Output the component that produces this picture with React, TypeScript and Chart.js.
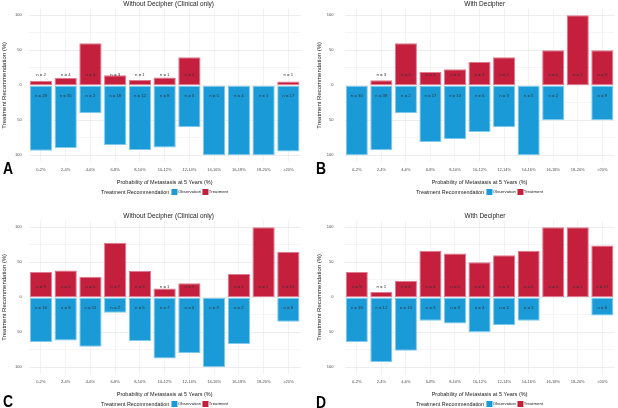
import React, { useEffect, useRef } from "react";
import { Chart, registerables } from "chart.js";

Chart.register(...registerables);

const categories = ["0-2%", "2-4%", "4-6%", "6-8%", "8-10%", "10-12%", "12-14%", "14-16%", "16-18%", "18-20%", ">20%"];
const yTickValues = [-100, -75, -50, -25, 0, 25, 50, 75, 100];

// Panel A: Without Decipher (top)
const treatA = [2, 4, 3, 3, 1, 1, 2, 0, 0, 0, 1];
const obsA = [28, 35, 2, 18, 12, 8, 3, 5, 4, 1, 17];
// Panel B: With Decipher (top)
const treatB = [0, 3, 3, 4, 3, 3, 2, 0, 2, 1, 9];
const obsB = [30, 38, 2, 17, 10, 6, 3, 5, 2, 0, 9];
// Panel C: Without Decipher (bottom)
const treatC = [9, 5, 5, 7, 3, 1, 1, 0, 1, 1, 15];
const obsC = [16, 8, 12, 2, 5, 7, 4, 3, 2, 0, 8];
// Panel D: With Decipher (bottom)
const treatD = [9, 1, 4, 6, 5, 4, 3, 2, 3, 1, 17];
const obsD = [16, 12, 13, 3, 3, 4, 2, 1, 0, 0, 6];

const TITLE_WITHOUT = "Without Decipher (Clinical only)";
const TITLE_WITH = "With Decipher";
const X_TITLE = "Probability of Metastasis at 5 Years (%)";
const Y_TITLE = "Treatment Recommendation (%)";
const LEGEND_TITLE = "Treatment Recommendation";
const LEGEND_ITEMS = ["Observation", "Treatment"];

const BLUE = "#1a9ad6";
const BLUE_EDGE = "#7fcbee";
const RED = "#c51f3e";
const RED_EDGE = "#e07a90";
const FONT = '"Liberation Sans", Arial, Helvetica, sans-serif';

const nLabelPlugin = {
  id: "nLabels",
  afterDatasetsDraw(chart: any, _args: any, opts: any) {
    const { ctx } = chart;
    const x = chart.scales.x;
    const y = chart.scales.y;
    ctx.save();
    ctx.font = `4.3px ${FONT}`;
    ctx.fillStyle = "#333333";
    ctx.textAlign = "center";
    ctx.textBaseline = "middle";
    (opts.treat as number[]).forEach((n, i) => {
      if (n > 0) ctx.fillText(`n = ${n}`, x.getPixelForValue(i), y.getPixelForValue(15));
    });
    (opts.obs as number[]).forEach((n, i) => {
      if (n > 0) ctx.fillText(`n = ${n}`, x.getPixelForValue(i), y.getPixelForValue(-15));
    });
    ctx.restore();
  },
};

type PanelProps = {
  left: number;
  top: number;
  width: number;
  yWidth: number;
  rightPad: number;
  tickPad: number;
  title: string;
  titleX: number;
  treat: number[];
  obs: number[];
};

const CANVAS_H = 196;
const PLOT_TOP = 8.3;
const X_AXIS_H = 33.7;

function Panel(p: PanelProps) {
  const ref = useRef<HTMLCanvasElement | null>(null);
  useEffect(() => {
    if (!ref.current) return;
    const treatPct = p.treat.map((t, i) => (t + p.obs[i] > 0 ? (t / (t + p.obs[i])) * 100 : 0));
    const obsPct = p.obs.map((o, i) => (o + p.treat[i] > 0 ? (-o / (o + p.treat[i])) * 100 : 0));
    const chart: any = new Chart(ref.current, {
      type: "bar",
      data: {
        labels: categories,
        datasets: [
          {
            label: "Observation",
            data: obsPct,
            backgroundColor: BLUE,
            borderColor: BLUE_EDGE,
            borderWidth: 1,
            borderSkipped: false,
            barPercentage: 0.9,
            categoryPercentage: 1,
          },
          {
            label: "Treatment",
            data: treatPct,
            backgroundColor: RED,
            borderColor: RED_EDGE,
            borderWidth: 1,
            borderSkipped: false,
            barPercentage: 0.9,
            categoryPercentage: 1,
          },
        ],
      },
      options: {
        responsive: false,
        animation: false,
        layout: { padding: { top: PLOT_TOP, right: p.rightPad, left: 0, bottom: 0 } },
        plugins: {
          legend: { display: false },
          tooltip: { enabled: false },
          title: { display: false },
          nLabels: { treat: p.treat, obs: p.obs },
        } as any,
        scales: {
          x: {
            stacked: true,
            grid: { offset: false, color: "#efefef", drawTicks: false, lineWidth: 0.8 },
            border: { display: false },
            ticks: {
              font: { size: 4, family: FONT },
              color: "#4d4d4d",
              padding: 5.5,
              autoSkip: false,
              maxRotation: 0,
            },
            title: {
              display: true,
              text: X_TITLE,
              font: { size: 5.5, family: FONT },
              color: "#222222",
              padding: { top: 0, bottom: 10.7 },
            },
            afterFit: (s: any) => {
              s.height = X_AXIS_H;
              s.paddingLeft = 0;
              s.paddingRight = 0;
            },
          },
          y: {
            stacked: true,
            min: -110,
            max: 110,
            afterBuildTicks: (s: any) => {
              s.ticks = yTickValues.map((v) => ({ value: v }));
            },
            grid: {
              drawTicks: false,
              color: (c: any) => (c.tick && c.tick.value % 50 === 0 ? "#e9e9e9" : "#f3f3f3"),
              lineWidth: 0.8,
            },
            border: { display: false },
            ticks: {
              font: { size: 4, family: FONT },
              color: "#4d4d4d",
              padding: p.tickPad,
              callback: (v: any) => (Number(v) % 50 === 0 ? String(Math.abs(Number(v))) : ""),
            },
            title: {
              display: true,
              text: Y_TITLE,
              font: { size: 6, family: FONT },
              color: "#222222",
              padding: { top: 0.9, bottom: 0 },
            },
            afterFit: (s: any) => {
              s.width = p.yWidth;
              s.paddingTop = 0;
              s.paddingBottom = 0;
            },
          },
        },
      } as any,
      plugins: [nLabelPlugin],
    });
    return () => chart.destroy();
  }, []);

  const plotCenter = p.left + (p.yWidth + (p.width - p.rightPad)) / 2;
  return (
    <>
      <div style={{ position: "absolute", left: p.left, top: p.top, width: p.width, height: CANVAS_H }}>
        <canvas ref={ref} width={p.width} height={CANVAS_H} style={{ display: "block" }} />
      </div>
      <div
        style={{
          position: "absolute",
          left: p.titleX,
          top: p.top + 4,
          transform: "translate(-50%, -50%)",
          whiteSpace: "nowrap",
          fontFamily: FONT,
          fontSize: 6.5,
          lineHeight: 1,
          color: "#222",
        }}
      >
        {p.title}
      </div>
      <div
        style={{
          position: "absolute",
          left: plotCenter,
          top: p.top + 192.3,
          transform: "translate(-50%, -50%)",
          display: "flex",
          alignItems: "center",
          whiteSpace: "nowrap",
          fontFamily: FONT,
          lineHeight: 1,
          color: "#222",
        }}
      >
        <span style={{ fontSize: 5.4, marginRight: 2 }}>{LEGEND_TITLE}</span>
        <span style={{ width: 6, height: 6, background: BLUE, display: "inline-block", marginRight: 0.7 }} />
        <span style={{ fontSize: 4.3, marginRight: 1 }}>{LEGEND_ITEMS[0]}</span>
        <span style={{ width: 6, height: 6, background: RED, display: "inline-block", marginRight: 0.7 }} />
        <span style={{ fontSize: 4.3 }}>{LEGEND_ITEMS[1]}</span>
      </div>
    </>
  );
}

function Letter({ text, left, top }: { text: string; left: number; top: number }) {
  return (
    <div
      style={{
        position: "absolute",
        left,
        top,
        fontFamily: FONT,
        fontWeight: "bold",
        fontSize: 17,
        lineHeight: 1,
        color: "#000",
        transform: "scaleX(0.82)",
        transformOrigin: "left top",
      }}
    >
      {text}
    </div>
  );
}

export default function App() {
  return (
    <div
      style={{
        position: "fixed",
        left: 0,
        top: 0,
        width: 618,
        height: 408,
        background: "#ffffff",
        overflow: "hidden",
      }}
    >
      <Panel left={0} top={0} width={309} yWidth={28.6} rightPad={8.3} tickPad={7} title={TITLE_WITHOUT} titleX={168.7} treat={treatA} obs={obsA} />
      <Panel left={315} top={0} width={303} yWidth={29.5} rightPad={3.4} tickPad={11} title={TITLE_WITH} titleX={484.7} treat={treatB} obs={obsB} />
      <Panel left={0} top={212} width={309} yWidth={28.6} rightPad={8.3} tickPad={7} title={TITLE_WITHOUT} titleX={168.7} treat={treatC} obs={obsC} />
      <Panel left={315} top={212} width={303} yWidth={29.5} rightPad={3.4} tickPad={11} title={TITLE_WITH} titleX={485} treat={treatD} obs={obsD} />
      <Letter text="A" left={3} top={159.8} />
      <Letter text="B" left={315.7} top={159.8} />
      <Letter text="C" left={3} top={392.5} />
      <Letter text="D" left={315.7} top={393.5} />
    </div>
  );
}
